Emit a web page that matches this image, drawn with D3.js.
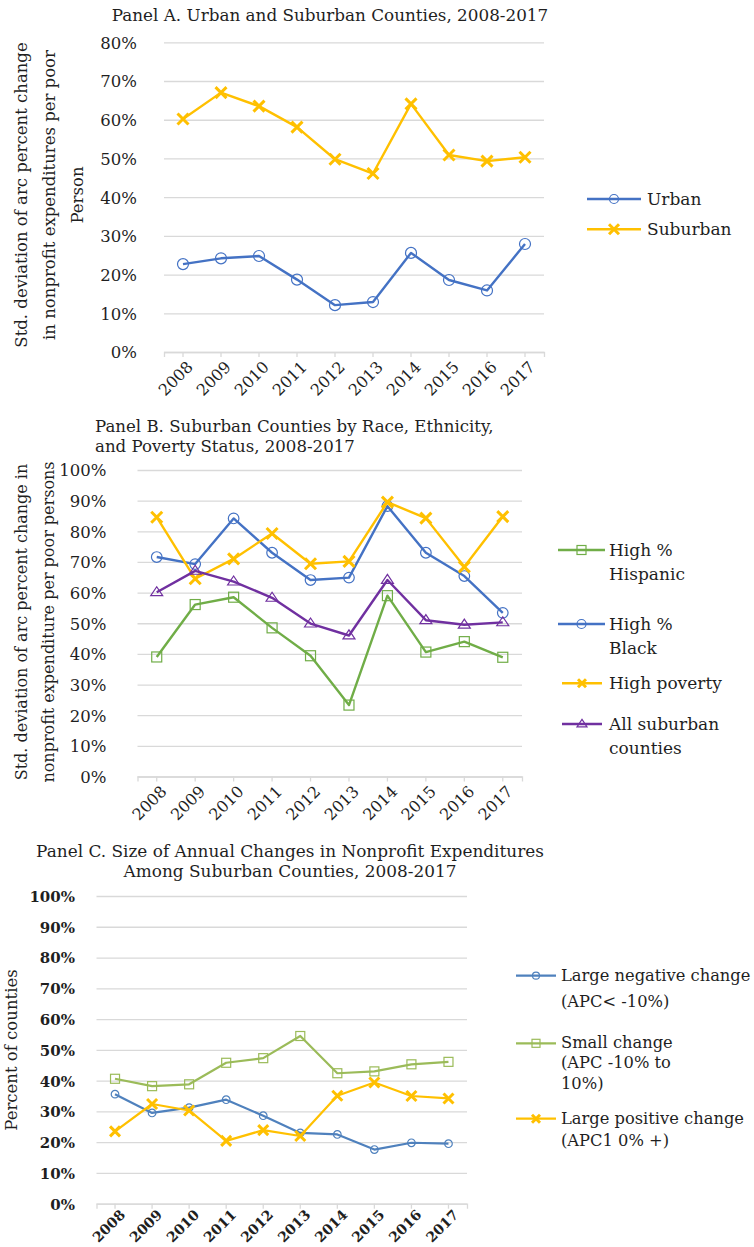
<!DOCTYPE html>
<html><head><meta charset="utf-8">
<script src="https://cdn.jsdelivr.net/npm/d3@7"></script>
<style>
body{margin:0;background:#fff;}
svg{display:block;font-family:"DejaVu Serif",serif;}
</style></head><body>
<svg id="chart" width="754" height="1247"></svg>
<script>
// ---------- data ----------
const years = ["2008","2009","2010","2011","2012","2013","2014","2015","2016","2017"];

// Panel A
const urbanA    = [22.7, 24.2, 24.8, 18.7, 12.1, 12.9, 25.6, 18.6, 15.9, 27.9];
const suburbanA = [60.2, 67.0, 63.5, 58.1, 49.8, 46.1, 64.1, 50.9, 49.3, 50.3];
const ticksA = [0, 10, 20, 30, 40, 50, 60, 70, 80];

// Panel B
const hispanicB    = [39.0, 56.1, 58.5, 48.5, 39.4, 23.3, 59.0, 40.6, 44.0, 38.9];
const blackB       = [71.6, 69.3, 84.2, 73.0, 64.1, 64.9, 88.2, 73.0, 65.4, 53.4];
const povertyB     = [84.6, 64.5, 71.0, 79.3, 69.4, 70.2, 89.5, 84.3, 68.4, 84.8];
const allSuburbanB = [60.1, 67.1, 63.6, 58.3, 49.9, 46.0, 64.1, 51.0, 49.5, 50.3];
const ticksB = [0, 10, 20, 30, 40, 50, 60, 70, 80, 90, 100];

// Panel C
const negativeC = [35.6, 29.5, 31.2, 33.8, 28.6, 23.0, 22.5, 17.6, 19.8, 19.5];
const smallC    = [40.6, 38.2, 38.8, 45.8, 47.3, 54.5, 42.4, 43.0, 45.3, 46.1];
const positiveC = [23.5, 32.4, 30.3, 20.4, 23.9, 22.0, 35.1, 39.4, 35.0, 34.2];
const ticksC = [0, 10, 20, 30, 40, 50, 60, 70, 80, 90, 100];

// ---------- drawing ----------
const svg = d3.select("#chart");
const TXT = "#1f1f1f";
const GRID = "#d9d9d9";

function marker(sel, type, color, s, sw){
  if(type==="circle"){
    sel.append("circle").attr("r", s).attr("fill","none").attr("stroke",color).attr("stroke-width",sw);
  } else if(type==="square"){
    sel.append("rect").attr("x",-s).attr("y",-s).attr("width",2*s).attr("height",2*s)
      .attr("fill","none").attr("stroke",color).attr("stroke-width",sw);
  } else if(type==="x"){
    sel.append("path").attr("d",`M${-s},${-s}L${s},${s}M${-s},${s}L${s},${-s}`)
      .attr("fill","none").attr("stroke",color).attr("stroke-width",sw);
  } else if(type==="triangle"){
    const h = s*1.5;
    sel.append("path").attr("d",`M0,${-h*0.62}L${s},${h*0.38}L${-s},${h*0.38}Z`)
      .attr("fill","none").attr("stroke",color).attr("stroke-width",sw);
  }
}

function panel(cfg){
  const x = d3.scaleBand().domain(years).range([cfg.left, cfg.right]);
  const y = d3.scaleLinear().domain([0, cfg.max]).range([cfg.bottom, cfg.top]);
  const g = svg.append("g");

  // gridlines + y tick labels
  g.append("g").attr("transform",`translate(${cfg.left},0)`)
    .call(d3.axisLeft(y).tickValues(cfg.ticks).tickSize(-(cfg.right-cfg.left))
      .tickFormat(d=>d+"%").tickPadding(cfg.ypad))
    .call(a=>a.select(".domain").remove())
    .call(a=>a.selectAll(".tick line").attr("stroke",GRID).attr("stroke-width",1.3))
    .call(a=>a.selectAll(".tick text").attr("font-size",cfg.yfs).attr("fill",TXT)
      .attr("font-weight",cfg.yfw).attr("font-family","DejaVu Serif").attr("dy","0.36em"));

  // x axis
  g.append("g").attr("transform",`translate(0,${cfg.bottom})`)
    .call(d3.axisBottom(x).tickSize(5).tickSizeOuter(5))
    .call(a=>a.select(".domain").attr("stroke",GRID).attr("stroke-width",1.3))
    .call(a=>a.selectAll(".tick line").attr("stroke",GRID).attr("stroke-width",1.3))
    .call(a=>a.selectAll(".tick text").attr("font-size",cfg.xfs).attr("fill",TXT)
      .attr("font-weight",cfg.yfw).attr("font-family","DejaVu Serif")
      .attr("x",0).attr("y",0).attr("dy",null).attr("text-anchor","end")
      .attr("transform",`translate(${cfg.xdx},${cfg.xdy}) rotate(-45)`));

  // series
  const cx = i => x(years[i]) + x.bandwidth()/2;
  cfg.series.forEach(s=>{
    const line = d3.line().x((d,i)=>cx(i)).y(d=>y(d));
    g.append("path").datum(s.values).attr("d",line).attr("fill","none")
      .attr("stroke",s.color).attr("stroke-width",cfg.lw).attr("stroke-linejoin","round");
    s.values.forEach((v,i)=>{
      const m = g.append("g").attr("transform",`translate(${cx(i)},${y(v)})`);
      marker(m, s.marker, s.color, s.ms, s.msw);
    });
  });

  // title
  const t = svg.append("text").attr("fill",TXT).attr("font-size",cfg.tfs).attr("font-family","DejaVu Serif")
    .attr("text-anchor",cfg.tanchor);
  cfg.title.forEach((ln,i)=>t.append("tspan").attr("x",cfg.tx).attr("y",cfg.ty + i*cfg.tlh).text(ln));

  // y axis title
  const yt = svg.append("text").attr("fill",TXT).attr("font-size",cfg.atfs).attr("font-family","DejaVu Serif")
    .attr("text-anchor","middle").attr("transform",`translate(0,${cfg.aty}) rotate(-90)`);
  cfg.ytitle.forEach((ln,i)=>yt.append("tspan").attr("x",0).attr("y",cfg.atx + i*cfg.atlh).text(ln));

  // legend
  cfg.legend.forEach((L,k)=>{
    const s = cfg.series[L.idx];
    const lg = svg.append("g");
    lg.append("line").attr("x1",L.x1).attr("x2",L.x2).attr("y1",L.y).attr("y2",L.y)
      .attr("stroke",s.color).attr("stroke-width",cfg.lw);
    const m = lg.append("g").attr("transform",`translate(${(L.x1+L.x2)/2},${L.y})`);
    marker(m, s.marker, s.color, L.ms, s.msw);
    const tx = lg.append("text").attr("fill",TXT).attr("font-size",cfg.lfs).attr("font-family","DejaVu Serif");
    let yy = L.y + cfg.lbase;
    L.lines.forEach((ln,i)=>{
      if(i>0) yy += L.lh[i-1];
      tx.append("tspan").attr("x",L.tx).attr("y",yy).text(ln);
    });
  });
}

// Panel A
panel({
  left:164, right:544, top:42.3, bottom:352, max:80, ticks:ticksA,
  ypad:27, yfs:16.5, yfw:"normal", xfs:16, xdx:11, xdy:16, lw:2.4,
  series:[
    {values:urbanA, color:"#4472C4", marker:"circle", ms:5.5, msw:1.2},
    {values:suburbanA, color:"#FFC000", marker:"x", ms:5.5, msw:3}
  ],
  title:["Panel A. Urban and Suburban Counties, 2008-2017"], tx:330, ty:21, tlh:0, tfs:16.8, tanchor:"middle",
  ytitle:["Std. deviation of arc percent change","in nonprofit expenditures per poor","Person"],
  aty:195, atx:27, atlh:28, atfs:16.5,
  lfs:17, lbase:5.5,
  legend:[
    {idx:0, x1:587, x2:641, y:199, ms:4.5, tx:647, lines:["Urban"], lh:[]},
    {idx:1, x1:587, x2:641, y:229.3, ms:5, tx:647, lines:["Suburban"], lh:[]}
  ]
});

// Panel B
panel({
  left:137.5, right:522, top:470, bottom:776.5, max:100, ticks:ticksB,
  ypad:31, yfs:16.5, yfw:"normal", xfs:16, xdx:11, xdy:16, lw:2.4,
  series:[
    {values:hispanicB, color:"#70AD47", marker:"square", ms:5, msw:1.2},
    {values:blackB, color:"#4472C4", marker:"circle", ms:5.3, msw:1.2},
    {values:povertyB, color:"#FFC000", marker:"x", ms:5.5, msw:3},
    {values:allSuburbanB, color:"#7030A0", marker:"triangle", ms:6, msw:1.2}
  ],
  title:["Panel B. Suburban Counties by Race, Ethnicity,","and Poverty Status, 2008-2017"],
  tx:95, ty:432, tlh:19.5, tfs:16.6, tanchor:"start",
  ytitle:["Std. deviation of arc percent change in","nonprofit expenditure per poor persons"],
  aty:622, atx:27, atlh:27, atfs:16,
  lfs:17, lbase:6,
  legend:[
    {idx:0, x1:558, x2:605, y:550, ms:4.5, tx:609, lines:["High %","Hispanic"], lh:[24]},
    {idx:1, x1:558, x2:605, y:624, ms:4.5, tx:609, lines:["High %","Black"], lh:[24]},
    {idx:2, x1:562, x2:602, y:683.3, ms:4, tx:609, lines:["High poverty"], lh:[]},
    {idx:3, x1:562, x2:602, y:724, ms:5, tx:609, lines:["All suburban","counties"], lh:[24]}
  ]
});

// Panel C
panel({
  left:96.5, right:467, top:896, bottom:1203.7, max:100, ticks:ticksC,
  ypad:21.5, yfs:15, yfw:"bold", xfs:14, xdx:11, xdy:12, lw:2.2,
  series:[
    {values:negativeC, color:"#4F81BD", marker:"circle", ms:3.8, msw:1.2},
    {values:smallC, color:"#9BBB59", marker:"square", ms:4.5, msw:1.2},
    {values:positiveC, color:"#FFC000", marker:"x", ms:5, msw:3}
  ],
  title:["Panel C. Size of Annual Changes in Nonprofit Expenditures","Among Suburban Counties, 2008-2017"],
  tx:290, ty:857, tlh:20, tfs:16.9, tanchor:"middle",
  ytitle:["Percent of counties"], aty:1050, atx:17, atlh:0, atfs:16.5,
  lfs:16.3, lbase:4.8,
  legend:[
    {idx:0, x1:516, x2:556, y:975.7, ms:3.5, tx:561, lines:["Large negative change","(APC< -10%)"], lh:[26]},
    {idx:1, x1:516, x2:556, y:1043.3, ms:4, tx:561, lines:["Small change","(APC -10% to","10%)"], lh:[20,21]},
    {idx:2, x1:516, x2:556, y:1118.7, ms:4, tx:561, lines:["Large positive change","(APC1 0% +)"], lh:[22]}
  ]
});
</script>
</body></html>
